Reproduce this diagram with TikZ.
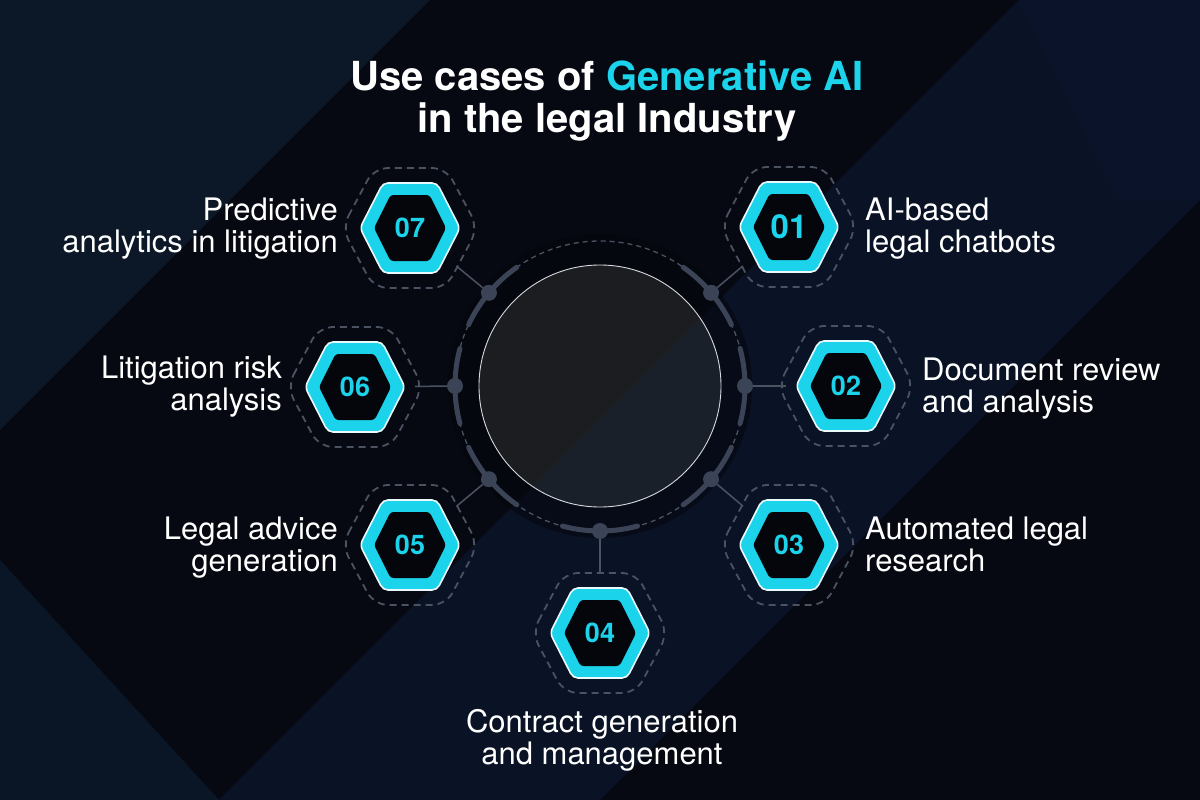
\documentclass[tikz,border=0pt]{standalone}
\usepackage{fontspec}
\setmainfont{TeX Gyre Heros}
\definecolor{bgbase}{HTML}{060911}
\definecolor{bgA}{HTML}{0C1828}
\definecolor{bgB}{HTML}{0A1225}
\definecolor{bgC}{HTML}{0B1829}
\definecolor{bgD}{HTML}{10183A}
\definecolor{ringdisc}{HTML}{04060C}
\definecolor{circA}{HTML}{1C1D21}
\definecolor{circB}{HTML}{1A2029}
\definecolor{circline}{HTML}{D5D8DD}
\definecolor{ringcol}{HTML}{3B4456}
\definecolor{dashcol}{HTML}{4B5262}
\definecolor{accent}{HTML}{1BD3EA}
\definecolor{hexborder}{HTML}{EAF9FC}
\definecolor{hexinner}{HTML}{04060B}
\tikzset{
  ringdash/.style={draw=dashcol, line width=1.3pt, dash pattern=on 5pt off 4pt},
  ringarc/.style={draw=ringcol, line width=5pt, line cap=round},
  ringdot/.style={circle, fill=ringcol, minimum size=16pt, inner sep=0pt},
  conn/.style={draw=dashcol, line width=1.5pt},
  hexdash/.style={draw=dashcol, line width=1.8pt, dash pattern=on 7pt off 5pt, rounded corners=14pt},
  hexouter/.style={fill=accent, draw=hexborder, line width=1.6pt, rounded corners=5pt},
  hexin/.style={fill=hexinner, rounded corners=3pt},
  hexnum/.style={text=accent, font=\bfseries\fontsize{27}{30}\selectfont, inner sep=0pt},
  hexzone/.style={circle, minimum size=120pt, inner sep=0pt},
  lbl/.style={text=white, font=\fontsize{31}{32}\selectfont, inner sep=0pt},
  ttl/.style={text=white, font=\bfseries\fontsize{40}{41}\selectfont, inner sep=0pt}
}
\newcommand\hexitem[5]{%
  \begin{scope}[shift={(#2,#3)}]
    \draw[hexdash] (-68,0) -- (-36,-60) -- (36,-60) -- (68,0) -- (36,60) -- (-36,60) -- cycle;
    \path[hexouter] (-50,0) -- (-27,-45) -- (27,-45) -- (50,0) -- (27,45) -- (-27,45) -- cycle;
    \path[hexin] (-36,0) -- (-19.5,-33) -- (19.5,-33) -- (36,0) -- (19.5,33) -- (-19.5,33) -- cycle;
    \node[hexzone] (#1z) at (0,0) {};
    \node[hexnum, #5] (#1) at (0,0) {#4};
  \end{scope}}
\begin{document}
\begin{tikzpicture}[x=1pt,y=-1pt]
\useasboundingbox (0,0) rectangle (1200,800);
% background
\fill[bgbase] (0,0) rectangle (1200,800);
\fill[bgA] (0,0) -- (430,0) -- (0,430) -- cycle;
\fill[bgB] (1019,0) -- (1200,0) -- (1200,200) -- (600,800) -- (219,800) -- cycle;
\fill[bgD, opacity=0.3] (1019,0) -- (1200,0) -- (1200,200) -- (1120,200) -- cycle;
\fill[bgC, opacity=0.9] (0,560) -- (0,800) -- (219,800) -- cycle;
% central ring
\coordinate (c) at (600,386);
\fill[ringdisc, opacity=0.55] (c) circle (152);
\draw[ringdash] (c) circle (145);
\foreach \a in {-140,-40,0,40,90,140,180}{
  \draw[ringarc] ([shift={(\a-15:145)}]c) arc[start angle=\a-15, end angle=\a+15, radius=145];
}
\node[ringdot] (p1) at ([shift={(-40:145)}]c) {};
\node[ringdot] (p2) at ([shift={(0:145)}]c) {};
\node[ringdot] (p3) at ([shift={(40:145)}]c) {};
\node[ringdot] (p4) at ([shift={(90:145)}]c) {};
\node[ringdot] (p5) at ([shift={(140:145)}]c) {};
\node[ringdot] (p6) at ([shift={(180:145)}]c) {};
\node[ringdot] (p7) at ([shift={(-140:145)}]c) {};
% core circle
\begin{scope}
  \clip (c) circle (121);
  \fill[circA] (470,255) rectangle (730,515);
  \fill[circB] (1019,0) -- (1200,0) -- (1200,800) -- (219,800) -- cycle;
\end{scope}
\node[circle, draw=circline, line width=0.9pt, minimum size=242pt, inner sep=0pt] (core) at (c) {};
% hexagons
\hexitem{h1}{789}{227}{01}{font=\bfseries\fontsize{33}{35}\selectfont}
\hexitem{h2}{846}{386}{02}{}
\hexitem{h3}{789}{545}{03}{}
\hexitem{h4}{600}{633}{04}{}
\hexitem{h5}{410}{545}{05}{}
\hexitem{h6}{355}{387}{06}{}
\hexitem{h7}{410}{228}{07}{}
% connectors
\draw[conn] (p1) -- (h1z);
\draw[conn] (p2) -- (h2z);
\draw[conn] (p3) -- (h3z);
\draw[conn] (p4) -- (h4z);
\draw[conn] (p5) -- (h5z);
\draw[conn] (p6) -- (h6z);
\draw[conn] (p7) -- (h7z);
% title
\node[ttl, anchor=base] (ttl1) at (607,91) {Use cases of {\color{accent}Generative AI}};
\node[ttl, anchor=base] (ttl2) at (607,132) {in the legal Industry};
% labels
\node[lbl, anchor=east] (t7) at (338,230) {\begin{tabular}{@{}r@{}}Predictive\\analytics in litigation\end{tabular}};
\node[lbl, anchor=west] (t1) at (865,230) {\begin{tabular}{@{}l@{}}AI-based\\legal chatbots\end{tabular}};
\node[lbl, anchor=east] (t6) at (282,388) {\begin{tabular}{@{}r@{}}Litigation risk\\analysis\end{tabular}};
\node[lbl, anchor=west] (t2) at (922,390) {\begin{tabular}{@{}l@{}}Document review\\and analysis\end{tabular}};
\node[lbl, anchor=east] (t5) at (338,549) {\begin{tabular}{@{}r@{}}Legal advice\\generation\end{tabular}};
\node[lbl, anchor=west] (t3) at (865,549) {\begin{tabular}{@{}l@{}}Automated legal\\research\end{tabular}};
\node[lbl] (t4) at (602,742) {\begin{tabular}{@{}c@{}}Contract generation\\and management\end{tabular}};
\end{tikzpicture}
\end{document}
